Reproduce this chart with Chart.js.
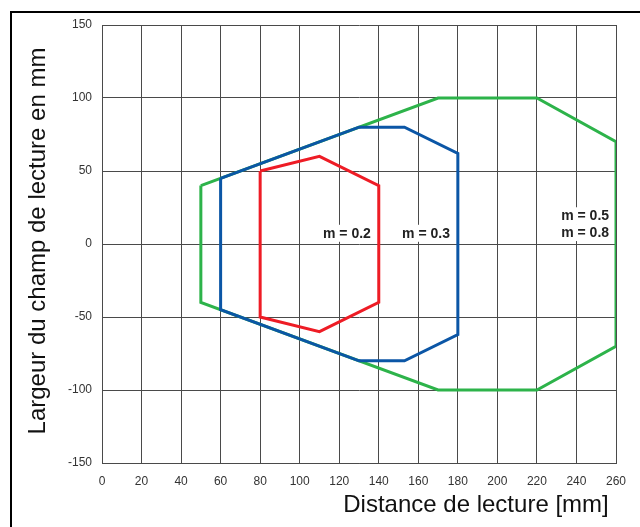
<!DOCTYPE html>
<html>
<head>
<meta charset="utf-8">
<script src="https://cdn.jsdelivr.net/npm/chart.js@4/dist/chart.umd.min.js"></script>
<style>
  html, body { margin: 0; padding: 0; background: #fff; }
  #wrap { width: 640px; height: 527px; position: relative; }
</style>
</head>
<body>
<div id="wrap"><canvas id="c" width="640" height="527"></canvas></div>
<script>
// Reading field outlines (distance in mm, field width in mm)
const redX   = [80, 110, 140, 140, 110, 80, 80];
const redY   = [50, 60, 40, -40, -60, -50, 50];
const blueX  = [60, 130, 153, 180, 180, 153, 130, 60, 60];
const blueY  = [45, 80, 80, 62, -62, -80, -80, -45, 45];
const greenX = [50, 170, 220, 260, 260, 220, 170, 50, 50];
const greenY = [40, 100, 100, 70, -70, -100, -100, -40, 40];

// Module-size annotations
const noteText = ['m = 0.2', 'm = 0.3', 'm = 0.5', 'm = 0.8'];
const noteX    = [136, 176, 256.5, 256.5];
const noteY    = [7, 7, 19, 7.5];

const xTicks = [0, 20, 40, 60, 80, 100, 120, 140, 160, 180, 200, 220, 240, 260];
const yTicks = [-150, -100, -50, 0, 50, 100, 150];

const xTitle = 'Distance de lecture [mm]';
const yTitle = 'Largeur du champ de lecture en mm';

const pts = (xs, ys) => xs.map((x, i) => ({ x: x, y: ys[i] }));
const FONT = '"Liberation Sans", Arial, Helvetica, sans-serif';

const frameAndTitles = {
  id: 'frameAndTitles',
  beforeDraw(chart) {
    const ctx = chart.ctx;
    ctx.save();
    ctx.strokeStyle = '#000';
    ctx.lineWidth = 2;
    ctx.beginPath();
    ctx.moveTo(11, 527);
    ctx.lineTo(11, 12);
    ctx.lineTo(640, 12);
    ctx.stroke();
    ctx.restore();
  },
  afterDraw(chart) {
    const ctx = chart.ctx;
    ctx.save();
    ctx.fillStyle = '#111';
    ctx.font = '24px ' + FONT;
    ctx.textAlign = 'center';
    ctx.textBaseline = 'middle';
    ctx.fillText(xTitle, 476, 505);
    ctx.translate(38, 241);
    ctx.rotate(-Math.PI / 2);
    ctx.fillText(yTitle, 0, 0);
    ctx.restore();
  },
  afterDatasetsDraw(chart) {
    const ctx = chart.ctx;
    const xs = chart.scales.x, ys = chart.scales.y;
    ctx.save();
    ctx.font = 'bold 14px ' + FONT;
    ctx.textAlign = 'right';
    ctx.textBaseline = 'middle';
    noteText.forEach((t, i) => {
      const px = xs.getPixelForValue(noteX[i]);
      const py = ys.getPixelForValue(noteY[i]);
      const w = ctx.measureText(t).width;
      ctx.fillStyle = '#fff';
      ctx.fillRect(px - w - 2, py - 9, w + 4, 17);
      ctx.fillStyle = '#222';
      ctx.fillText(t, px, py);
    });
    ctx.restore();
  }
};

new Chart(document.getElementById('c'), {
  type: 'scatter',
  data: {
    datasets: [
      { label: 'm = 0.2', data: pts(redX, redY), borderColor: '#ee1c25' },
      { label: 'm = 0.3', data: pts(blueX, blueY), borderColor: '#0b56a6' },
      { label: 'm = 0.5 / 0.8', data: pts(greenX, greenY), borderColor: '#2db34a' }
    ].map(d => Object.assign(d, {
      showLine: true, fill: false, borderWidth: 3, pointRadius: 0,
      tension: 0, borderJoinStyle: 'miter', borderCapStyle: 'butt'
    }))
  },
  options: {
    responsive: false,
    animation: false,
    devicePixelRatio: 1,
    layout: { padding: { left: 0, top: 25, right: 24, bottom: 0 } },
    plugins: { legend: { display: false }, tooltip: { enabled: false } },
    scales: {
      x: {
        type: 'linear', min: 0, max: 260,
        afterBuildTicks: s => { s.ticks = xTicks.map(v => ({ value: v })); },
        afterFit: s => { s.height = 64; },
        grid: { color: '#4a4a4a', lineWidth: 1, drawTicks: false },
        border: { color: '#4a4a4a', width: 1 },
        ticks: { color: '#333', font: { family: FONT, size: 12 }, padding: 11, maxRotation: 0, autoSkip: false }
      },
      y: {
        type: 'linear', min: -150, max: 150,
        afterBuildTicks: s => { s.ticks = yTicks.map(v => ({ value: v })); },
        afterFit: s => { s.width = 102; },
        grid: { color: '#4a4a4a', lineWidth: 1, drawTicks: false },
        border: { color: '#4a4a4a', width: 1 },
        ticks: { color: '#333', font: { family: FONT, size: 12 }, padding: 10, autoSkip: false }
      }
    }
  },
  plugins: [frameAndTitles]
});
</script>
</body>
</html>
